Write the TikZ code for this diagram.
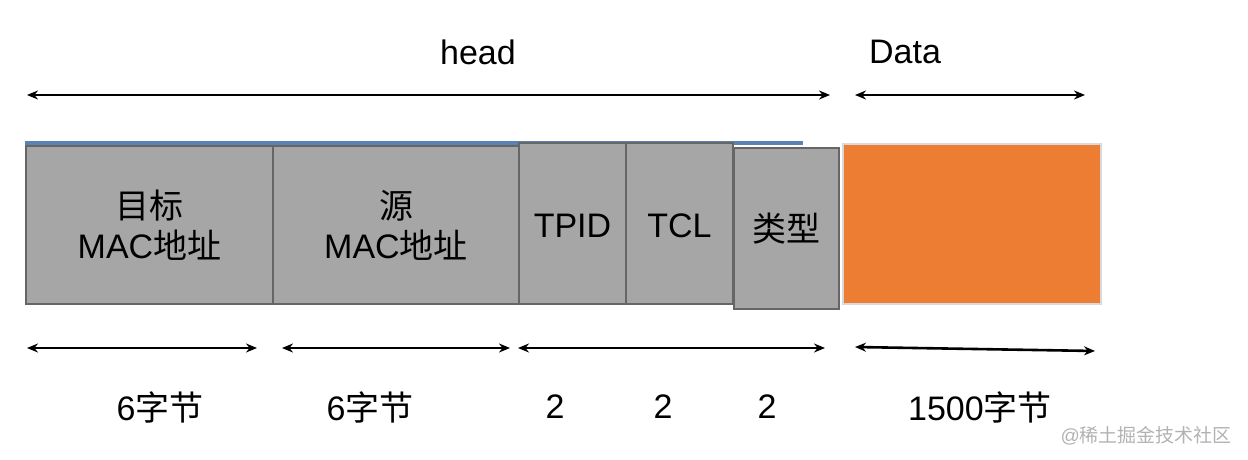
\documentclass[tikz,border=0pt]{standalone}
\usepackage{fontspec}
\usetikzlibrary{arrows.meta}
\setmainfont{Liberation Sans}
\newfontfamily\cjk{Noto Sans CJK SC}
\definecolor{topblue}{RGB}{90,130,180}
\definecolor{dataorange}{RGB}{236,125,50}
\begin{document}
\begin{tikzpicture}[x=1pt,y=-1pt,
  seg/.style={draw=gray!80!black,line width=2pt,fill=gray!70},
  lbl/.style={font=\fontsize{34}{40}\selectfont,align=center,inner sep=0},
  dim/.style={line width=2.6pt,<->,>={Stealth[length=11pt,width=9pt]}}]
\useasboundingbox (0,0) rectangle (1248,460);
\draw[topblue,line width=4pt] (25,143) -- (803,143);
\node[seg,minimum width=247pt,minimum height=158pt,anchor=north west] (dst) at (25,145) {};
\node[seg,minimum width=246pt,minimum height=158pt,anchor=north west] (src) at (272,145) {};
\node[seg,minimum width=107pt,minimum height=161pt,anchor=north west] (tpid) at (518,142) {};
\node[seg,minimum width=107pt,minimum height=161pt,anchor=north west] (tcl) at (625,142) {};
\node[seg,minimum width=105pt,minimum height=161pt,anchor=north west] (typ) at (733,147) {};
\node[draw=gray!30,line width=2pt,fill=dataorange,minimum width=258pt,minimum height=160pt,anchor=north west] (data) at (842,143) {};
\node[lbl] at (dst.center) {{\cjk 目标}\\MAC{\cjk 地址}};
\node[lbl] at (src.center) {{\cjk 源}\\MAC{\cjk 地址}};
\node[lbl] at ([yshift=-2pt]tpid.center) {TPID};
\node[lbl] at ([yshift=-2pt]tcl.center) {TCL};
\node[lbl] at (typ.center) {\cjk 类型};
\node[lbl] (head) at (478,52) {head};
\node[lbl] (dat) at (905,52) {Data};
\coordinate (h1) at (27,95); \coordinate (h2) at (830,95);
\coordinate (d1) at (855,95); \coordinate (d2) at (1085,95);
\draw[dim] (h1) -- (h2);
\draw[dim] (d1) -- (d2);
\coordinate (b1) at (27,348); \coordinate (b2) at (257,348);
\coordinate (b3) at (282,348); \coordinate (b4) at (510,348);
\coordinate (b5) at (518,348); \coordinate (b6) at (825,348);
\coordinate (b7) at (855,347); \coordinate (b8) at (1095,351);
\draw[dim] (b1) -- (b2);
\draw[dim] (b3) -- (b4);
\draw[dim] (b5) -- (b6);
\draw[dim] (b7) -- (b8);
\node[lbl] (l1) at (160,407) {6{\cjk 字节}};
\node[lbl] (l2) at (370,407) {6{\cjk 字节}};
\node[lbl] (l3) at (555,407) {2};
\node[lbl] (l4) at (663,407) {2};
\node[lbl] (l5) at (767,407) {2};
\node[lbl] (l6) at (980,407) {1500{\cjk 字节}};
\node[text=gray!60,font=\fontsize{19}{22}\selectfont,anchor=east,inner sep=0] (wm) at (1232,436) {@{\cjk 稀土掘金技术社区}};
\end{tikzpicture}
\end{document}
